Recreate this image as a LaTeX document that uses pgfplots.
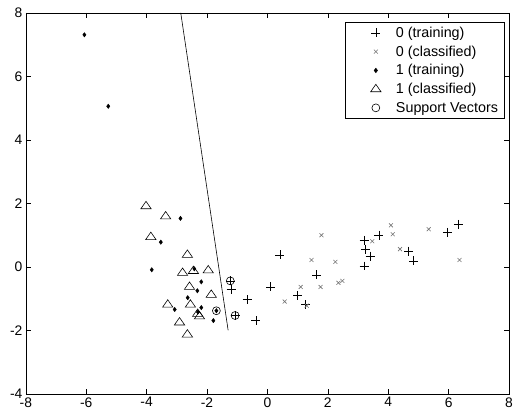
\documentclass[border=0pt]{standalone}
\usepackage{pgfplots}
\pgfplotsset{compat=1.18}
\usepackage{fontspec}
\setmainfont{Liberation Sans}
\begin{document}
\begin{tikzpicture}
\begin{axis}[
 scale only axis, width=487bp, height=384bp,
 xmin=-8,xmax=8,ymin=-4,ymax=8,
 xtick={-8,-6,...,8}, ytick={-4,-2,...,8},
 tick align=inside, major tick length=5bp,
 /pgf/number format/assume math mode=true,
 ticklabel style={font=\fontsize{14}{16}\selectfont},
 axis line style={line width=0.6bp},
 every tick/.style={black,line width=0.6bp},
 legend style={at={(0.99,0.977)},anchor=north east,
   font=\fontsize{14.5}{17}\selectfont, draw=black, line width=0.6bp,
   row sep=3bp, inner xsep=4bp, inner ysep=3bp},
 legend cell align=left,
 legend image code/.code={\path (-26bp,0) (18bp,0); \draw[#1] plot coordinates {(0bp,0bp)};},
]
\coordinate (sw) at (rel axis cs:0,0);
\coordinate (ne) at (rel axis cs:1,1);
% line (separating hyperplane)
\addplot[black, line width=0.6bp, forget plot] coordinates {(-2.87,8) (-1.30,-2.0)};
% 0 (training)
\addplot[only marks, mark=+, mark size=4.5bp, black, mark options={line width=0.6bp}] coordinates {
(0.41,0.38) (0.11,-0.63) (-0.38,-1.69) (-0.67,-1.03) (-1.2,-0.72)
(-1.23,-0.44) (-1.07,-1.53) (1.63,-0.25) (1.0,-0.9) (1.26,-1.19)
(3.2,0.84) (3.69,1.0) (3.24,0.56) (3.40,0.34) (3.2,0.03)
(4.68,0.5) (4.84,0.19) (5.96,1.09) (6.32,1.34)};
\addlegendentry{0 (training)}
% 0 (classified)
\addplot[only marks, mark=x, mark size=2.8bp, color=black!55, mark options={line width=0.6bp}] coordinates {
(1.79,1.0) (1.46,0.22) (2.25,0.16) (2.35,-0.5) (2.48,-0.44)
(1.76,-0.63) (1.1,-0.63) (0.57,-1.09) (1.3,-1.22) (3.47,0.81)
(4.09,1.31) (4.15,1.03) (4.39,0.56) (5.34,1.19) (6.36,0.22)};
\addlegendentry{0 (classified)}
% 1 (training)
\addplot[only marks, mark=diamond*, mark size=2.2bp, black] coordinates {
(-6.06,7.31) (-5.27,5.06) (-2.88,1.53) (-3.53,0.78) (-3.83,-0.09)
(-2.42,-0.06) (-2.19,-0.47) (-2.32,-0.75) (-2.64,-0.97) (-3.07,-1.34)
(-2.19,-1.28) (-2.3,-1.42) (-1.69,-1.38) (-1.79,-1.69)};
\addlegendentry{1 (training)}
% 1 (classified)
\addplot[only marks, mark=triangle, mark size=5bp, black, mark options={xscale=1.2, line width=0.6bp}] coordinates {
(-4.02,1.91) (-3.37,1.59) (-3.86,0.94) (-2.65,0.38) (-2.81,-0.19)
(-2.45,-0.13) (-1.96,-0.11) (-2.58,-0.63) (-1.86,-0.88) (-3.30,-1.19)
(-2.55,-1.19) (-2.31,-1.48) (-2.25,-1.56) (-2.91,-1.75) (-2.65,-2.13)};
\addlegendentry{1 (classified)}
% Support vectors
\addplot[only marks, mark=o, mark size=4bp, black, mark options={line width=0.6bp}] coordinates {
(-1.23,-0.44) (-1.07,-1.53) (-1.69,-1.38)};
\addlegendentry{Support Vectors}
\end{axis}
\pgfresetboundingbox
\path ([shift={(-26bp,-23bp)}]sw) rectangle ([shift={(6bp,13bp)}]ne);
\end{tikzpicture}
\end{document}
